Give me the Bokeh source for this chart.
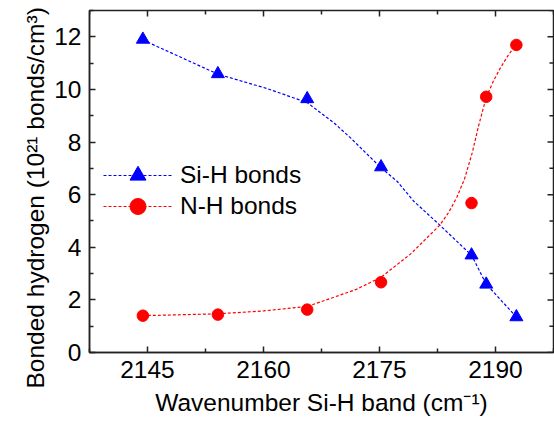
import math
from bokeh.plotting import figure
from bokeh.models import Range1d, FixedTicker, Legend, LegendItem, Title
from bokeh.embed import file_html
from bokeh.resources import INLINE

# measured data
wavenumber = [2144.4, 2154.1, 2165.65, 2175.2, 2186.9, 2188.8, 2192.7]
si_h = [11.90, 10.59, 9.64, 7.05, 3.70, 2.59, 1.35]
n_h = [1.40, 1.44, 1.63, 2.67, 5.68, 9.72, 11.69]

# fitted guide curves
si_fit_x = [2144.4, 2150.0, 2154.1, 2160.5, 2165.65, 2169.1, 2171.25, 2175.2, 2177.3, 2179.4, 2182.8, 2186.9, 2188.8, 2192.7]
si_fit_y = [11.88, 11.13, 10.58, 10.03, 9.50, 8.73, 8.16, 7.02, 6.50, 5.76, 4.84, 3.70, 2.60, 1.35]
nh_fit_x = [2144.4, 2154.1, 2160.0, 2165.65, 2169.1, 2172.0, 2175.2, 2179.0, 2182.8, 2184.0, 2185.0, 2186.0, 2187.0, 2187.8, 2188.8, 2189.7, 2190.6, 2191.6, 2192.6]
nh_fit_y = [1.40, 1.47, 1.58, 1.75, 2.10, 2.40, 2.86, 3.74, 4.84, 5.35, 5.90, 6.60, 7.60, 8.60, 9.70, 10.30, 10.80, 11.28, 11.69]

x_ticks = [2145, 2160, 2175, 2190]
x_minor = [2137.5, 2152.5, 2167.5, 2182.5, 2197.5]
y_ticks = [0, 2, 4, 6, 8, 10, 12]
y_minor = [1, 3, 5, 7, 9, 11, 13]
x_lo, x_hi = 2137.5, 2197.5
y_lo, y_hi = 0, 13

x_title = "Wavenumber Si-H band (cm\u207b\u00b9)"
y_title = "Bonded hydrogen (10\u00b2\u00b9 bonds/cm\u00b3)"

FONT = "Liberation Sans"
FS = "24.5px"
FRAME = "#222222"

p = figure(width=554, height=428, output_backend="svg", toolbar_location=None,
           x_range=Range1d(x_lo, x_hi), y_range=Range1d(y_lo, y_hi),
           min_border_left=89, min_border_right=1, min_border_top=10, min_border_bottom=76)
p.xgrid.visible = False
p.ygrid.visible = False
p.outline_line_color = FRAME
p.outline_line_width = 1.5
p.background_fill_color = "white"
p.border_fill_color = "white"

def style(ax, ticks, minor):
    ax.ticker = FixedTicker(ticks=ticks, minor_ticks=minor)
    ax.axis_line_color = FRAME
    ax.axis_line_width = 1.5
    ax.major_tick_in = 6
    ax.major_tick_out = 0
    ax.minor_tick_in = 4
    ax.minor_tick_out = 0
    ax.major_tick_line_color = FRAME
    ax.minor_tick_line_color = FRAME
    ax.major_tick_line_width = 1.5
    ax.minor_tick_line_width = 1.5
    ax.major_label_text_font = FONT
    ax.axis_label_text_font = FONT
    ax.axis_label_text_font_style = "normal"
    ax.major_label_text_color = "black"
    ax.axis_label_text_color = "black"
    ax.major_label_text_font_size = FS
    ax.axis_label_text_font_size = FS

style(p.xaxis[0], x_ticks, x_minor)
style(p.yaxis[0], y_ticks, y_minor)
p.xaxis[0].axis_label = x_title
p.xaxis[0].major_label_standoff = 8
p.xaxis[0].axis_label_standoff = 8
p.yaxis[0].major_label_standoff = 8

# y title as a side title, started a little below the frame bottom as in the reference
p.add_layout(Title(text=y_title, align="left", offset=-36, standoff=6,
                   text_font=FONT, text_font_size=FS, text_font_style="normal",
                   text_color="black"), "left")

# mirrored inward ticks on top and right edges
p.ray(x=x_ticks, y=[y_hi] * len(x_ticks), length=6, length_units="screen", angle=-math.pi / 2,
      line_color=FRAME, line_width=1.5)
p.ray(x=x_minor, y=[y_hi] * len(x_minor), length=4, length_units="screen", angle=-math.pi / 2,
      line_color=FRAME, line_width=1.5)
p.ray(x=[x_hi] * len(y_ticks), y=y_ticks, length=6, length_units="screen", angle=math.pi,
      line_color=FRAME, line_width=1.5)
p.ray(x=[x_hi] * len(y_minor), y=y_minor, length=4, length_units="screen", angle=math.pi,
      line_color=FRAME, line_width=1.5)

l1 = p.line(si_fit_x, si_fit_y, line_color="#0000ff", line_width=1.2, line_dash="3 2")
m1 = p.scatter(wavenumber, si_h, marker="triangle", size=13, fill_color="#0000ff", line_color="#0000ff")
l2 = p.line(nh_fit_x, nh_fit_y, line_color="#ff0000", line_width=1.2, line_dash="3 2")
m2 = p.scatter(wavenumber, n_h, marker="circle", size=11.5, fill_color="#ff0000", line_color="#ff0000")

def make_legend(label, rends, loc):
    lg = Legend(items=[LegendItem(label=label, renderers=rends)], location=loc)
    lg.border_line_color = None
    lg.background_fill_alpha = 0
    lg.padding = 0
    lg.margin = 0
    lg.glyph_width = 69
    lg.glyph_height = 40
    lg.label_height = 30
    lg.spacing = 0
    lg.label_standoff = 8
    lg.label_text_font = FONT
    lg.label_text_font_size = FS
    lg.label_text_color = "black"
    return lg

p.add_layout(make_legend("Si-H bonds", [l1, m1], (14, 157)), "center")
p.add_layout(make_legend("N-H bonds", [l2, m2], (14, 126)), "center")

open("out.html", "w").write(file_html(p, INLINE))
